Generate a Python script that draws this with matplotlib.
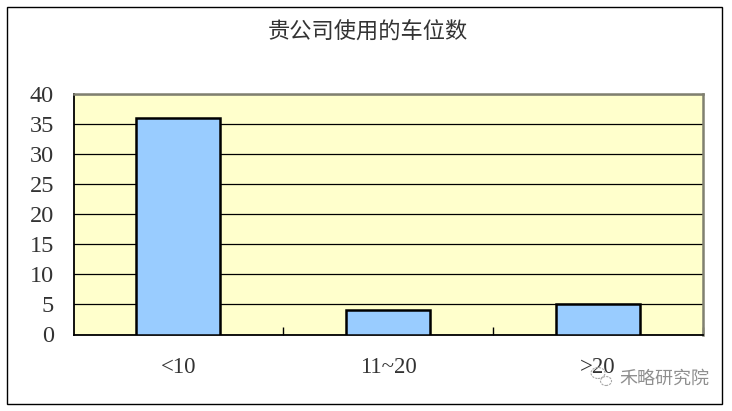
import matplotlib
matplotlib.use("Agg")
import matplotlib.pyplot as plt
from matplotlib.patches import Ellipse, Rectangle

W, H = 732, 411

title = "贵公司使用的车位数"
categories = ["<10", "11~20", ">20"]
values = [36, 4, 5]
y_ticks = [0, 5, 10, 15, 20, 25, 30, 35, 40]
watermark = "禾略研究院"

serif = ["Liberation Serif", "DejaVu Serif"]
cjk = ["Noto Sans CJK SC", "DejaVu Sans"]

fig = plt.figure(figsize=(W / 100, H / 100), dpi=100)
fig.patch.set_facecolor("white")

# outer chart frame
fig.add_artist(Rectangle((7.5 / W, 1 - 403.5 / H), 714.5 / W, 396 / H, transform=fig.transFigure,
                         fill=False, edgecolor="black", linewidth=1.0))

ax = fig.add_axes([73.5 / W, 1 - 334.5 / H, 629.5 / W, 240.5 / H])
ax.set_facecolor("#ffffcc")
ax.set_xlim(-0.5, 2.5)
ax.set_ylim(0, 40)

ax.yaxis.grid(True, color="black", linewidth=0.9)
ax.set_axisbelow(True)
ax.bar(range(3), values, width=0.4, color="#99ccff", edgecolor="black", linewidth=1.8, zorder=3)

for side in ["top", "right"]:
    ax.spines[side].set_color("#808070")
    ax.spines[side].set_linewidth(1.8)
for side in ["left", "bottom"]:
    ax.spines[side].set_color("black")
    ax.spines[side].set_linewidth(1.3)

ax.set_yticks(y_ticks)
ax.set_yticklabels([str(v) for v in y_ticks], family=serif, fontsize=17.5, color="#333333")
ax.tick_params(axis="y", length=0, pad=14)
for lab in ax.get_yticklabels():
    lab.set_y(lab.get_position()[1])

# category separators point inward, labels placed under the bar centres
ax.set_xticks([0.5, 1.5, 2.5])
ax.set_xticklabels([])
ax.tick_params(axis="x", direction="in", length=6, width=1.0, color="black")
for i, cat in enumerate(categories):
    ax.annotate(cat, xy=(i, 0), xycoords=("data", "axes fraction"), xytext=(0, -33),
                textcoords="offset pixels", ha="center", va="center",
                family=serif, fontsize=16.5, color="#333333")

fig.text(367.5 / W, 1 - 32 / H, title, ha="center", va="center", family=cjk, fontsize=16, color="#333333")

# watermark
fig.text(664 / W, 1 - 379 / H, watermark, ha="center", va="center", family=cjk, fontsize=13,
         color="#8f8f8f", zorder=5)
for cx, cy, ew, eh in [(598, 373, 14, 11), (606, 381, 11, 9)]:
    fig.add_artist(Ellipse((cx / W, 1 - cy / H), ew / W, eh / H, transform=fig.transFigure,
                           fill=False, edgecolor="#a8a8a8", linewidth=0.8, linestyle=(0, (2, 1))))

fig.savefig("out.png", dpi=100)
